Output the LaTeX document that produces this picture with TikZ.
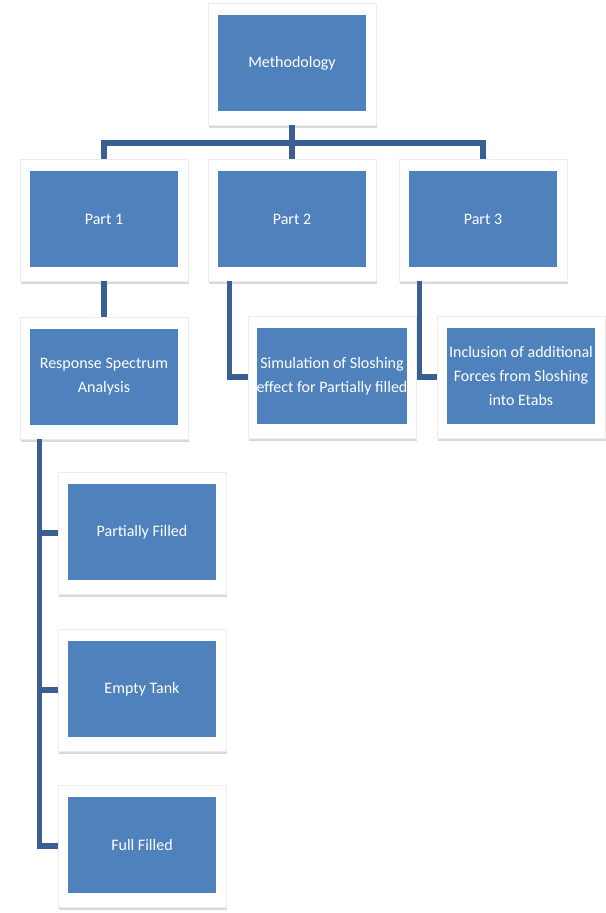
\documentclass[tikz,border=0pt]{standalone}
\usepackage{fontspec}
\setmainfont{Carlito}
\usetikzlibrary{calc,shadows}
\definecolor{boxblue}{RGB}{79,129,189}
\definecolor{linkblue}{RGB}{58,95,145}
\tikzset{
	frame/.style={fill=white, draw=black!7, minimum width=126pt, minimum height=91.5pt, inner sep=0pt,
		drop shadow={opacity=0.3, shadow xshift=0.6pt, shadow yshift=-2.2pt}},
	core/.style={fill=boxblue, minimum width=111pt, minimum height=72pt, inner sep=0pt,
		text=white, align=center, font=\fontsize{12}{18}\selectfont},
	link/.style={line width=4pt, color=linkblue}
}

\begin{document}
\begin{tikzpicture}[x=0.75pt, y=-0.75pt]
		%%%%% START %%%%%
		\useasboundingbox (0,0) rectangle (606,913);
		
		\node[frame] (meth) at (292, 64) {};
		\node[core] (meth-in) at (292, 63) {Methodology};
		
		\node[frame] (p1) at (104, 220) {};
		\node[core] (p1-in) at (104, 219) {Part 1};
		\node[frame] (p2) at (292, 220) {};
		\node[core] (p2-in) at (292, 219) {Part 2};
		\node[frame] (p3) at (483, 220) {};
		\node[core] (p3-in) at (483, 219) {Part 3};
		
		\node[frame] (rsa) at (104, 378) {};
		\node[core] (rsa-in) at (104, 377) {Response Spectrum\\Analysis};
		\node[frame] (sim) at (332, 377) {};
		\node[core] (sim-in) at (332, 376) {Simulation of Sloshing\\effect for Partially filled};
		\node[frame] (inc) at (521, 377) {};
		\node[core] (inc-in) at (521, 376) {Inclusion of additional\\Forces from Sloshing\\into Etabs};
		
		\node[frame] (pf) at (142, 533) {};
		\node[core] (pf-in) at (142, 532) {Partially Filled};
		\node[frame] (et) at (142, 690) {};
		\node[core] (et-in) at (142, 689) {Empty Tank};
		\node[frame] (ff) at (142, 846) {};
		\node[core] (ff-in) at (142, 845) {Full Filled};
		
		\coordinate (hub) at (292, 143);
		\draw[link] (meth) -- (hub);
		\draw[link] (hub) -| (p1);
		\draw[link] (hub) -| (p2);
		\draw[link] (hub) -| (p3);
		
		\draw[link] (p1) -- (rsa);
		\draw[link] ($(p2.south west)+(22,0)$) |- (sim);
		\draw[link] ($(p3.south west)+(21,0)$) |- (inc);
		
		\draw[link] ($(rsa.south west)+(20,0)$) |- (pf);
		\draw[link] ($(rsa.south west)+(20,0)$) |- (et);
		\draw[link] ($(rsa.south west)+(20,0)$) |- (ff);
		
		%%%%% END %%%%%
\end{tikzpicture}
\end{document}
